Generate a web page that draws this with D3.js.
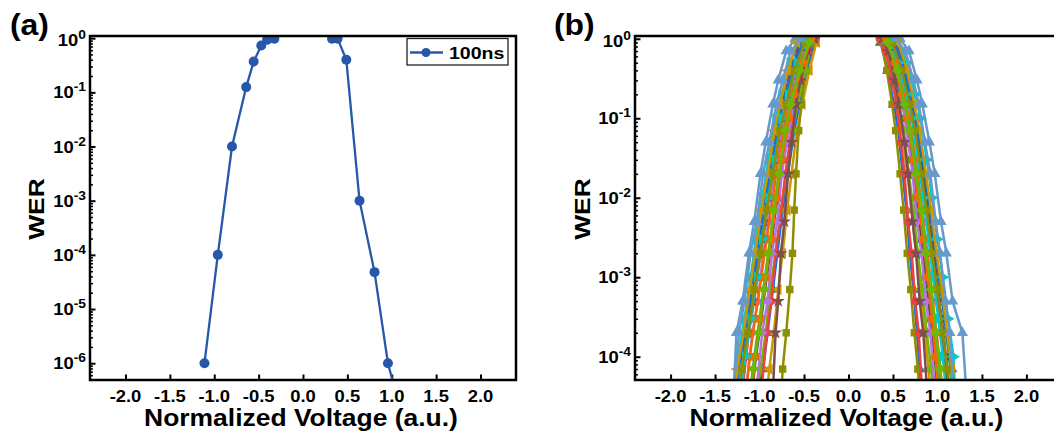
<!DOCTYPE html>
<html><head><meta charset="utf-8">
<script src="https://cdn.jsdelivr.net/npm/d3@7"></script>
<style>body{margin:0;background:#fff}svg{display:block}text{font-family:"Liberation Sans",Arial,sans-serif;font-weight:bold;fill:#000}</style>
</head><body>
<script>
// ---------- data ----------
const xTicks = [-2.0, -1.5, -1.0, -0.5, 0.0, 0.5, 1.0, 1.5, 2.0];
const xTickLabels = ["-2.0", "-1.5", "-1.0", "-0.5", "0.0", "0.5", "1.0", "1.5", "2.0"];
const yExpA = [0, -1, -2, -3, -4, -5, -6];
const yExpB = [0, -1, -2, -3, -4];

// panel (a): 100ns
const aLegend = "100ns";
const aLeftV = [-1.11, -0.96, -0.80, -0.64, -0.556, -0.47, -0.405, -0.323];
const aLeftW = [1e-6, 1e-4, 1e-2, 0.125, 0.37, 0.73, 0.93, 0.98];
const aRightV = [0.327, 0.39, 0.488, 0.637, 0.806, 0.957, 1.12];
const aRightW = [0.98, 0.98, 0.40, 1e-3, 4.8e-5, 1e-6, 1e-7];

// panel (b): many devices; three WER level sets used in turn by the curves
const bWER0 = [1, 0.5, 0.2, 0.1, 0.03, 0.01, 3e-3, 1e-3, 3e-4, 1e-4, 1e-5];
const bWER1 = [1, 0.7, 0.3, 0.15, 0.05, 0.02, 5e-3, 2e-3, 5e-4, 2e-4, 2e-5];
const bWER2 = [0.9, 0.4, 0.15, 0.07, 0.02, 7e-3, 2e-3, 7e-4, 2e-4, 7e-5, 1e-5];
const bLeft = [
  [-0.40,-0.50,-0.60,-0.66,-0.74,-0.80,-0.86,-0.92,-0.98,-1.04,-1.14],
  [-0.45,-0.56,-0.66,-0.72,-0.80,-0.86,-0.93,-0.99,-1.06,-1.12,-1.22],
  [-0.38,-0.47,-0.55,-0.61,-0.68,-0.74,-0.80,-0.85,-0.91,-0.96,-1.05],
  [-0.50,-0.62,-0.72,-0.79,-0.87,-0.94,-1.01,-1.08,-1.15,-1.22,-1.32],
  [-0.42,-0.52,-0.62,-0.69,-0.77,-0.83,-0.90,-0.96,-1.02,-1.08,-1.18],
  [-0.36,-0.44,-0.52,-0.58,-0.64,-0.69,-0.74,-0.79,-0.84,-0.89,-0.97],
  [-0.55,-0.66,-0.75,-0.82,-0.90,-0.97,-1.04,-1.10,-1.17,-1.24,-1.33],
  [-0.47,-0.57,-0.67,-0.74,-0.82,-0.88,-0.95,-1.01,-1.08,-1.14,-1.24],
  [-0.42,-0.48,-0.53,-0.56,-0.59,-0.61,-0.63,-0.66,-0.70,-0.74,-0.78],
  [-0.44,-0.54,-0.64,-0.70,-0.79,-0.85,-0.92,-0.98,-1.05,-1.11,-1.20],
  [-0.60,-0.70,-0.79,-0.85,-0.93,-0.99,-1.06,-1.12,-1.19,-1.26,-1.30],
  [-0.41,-0.49,-0.57,-0.63,-0.70,-0.76,-0.82,-0.88,-0.93,-0.99,-1.08],
  [-0.48,-0.59,-0.69,-0.76,-0.84,-0.91,-0.98,-1.05,-1.12,-1.18,-1.27],
  [-0.37,-0.45,-0.54,-0.60,-0.66,-0.71,-0.77,-0.82,-0.87,-0.92,-1.00],
  [-0.52,-0.63,-0.73,-0.80,-0.88,-0.95,-1.02,-1.09,-1.16,-1.23,-1.30],
  [-0.43,-0.53,-0.63,-0.68,-0.76,-0.82,-0.88,-0.94,-1.00,-1.06,-1.16],
  [-0.40,-0.48,-0.56,-0.62,-0.69,-0.75,-0.80,-0.86,-0.91,-0.97,-1.06],
  [-0.58,-0.68,-0.77,-0.83,-0.91,-0.98,-1.05,-1.11,-1.18,-1.25,-1.31],
  [-0.46,-0.58,-0.68,-0.75,-0.83,-0.90,-0.97,-1.03,-1.10,-1.16,-1.26],
  [-0.38,-0.46,-0.54,-0.59,-0.64,-0.68,-0.72,-0.76,-0.79,-0.82,-0.86],
  [-0.49,-0.61,-0.70,-0.77,-0.85,-0.92,-0.99,-1.06,-1.13,-1.20,-1.28],
  [-0.42,-0.51,-0.61,-0.67,-0.75,-0.81,-0.87,-0.93,-0.99,-1.05,-1.13],
  [-0.53,-0.65,-0.74,-0.81,-0.89,-0.96,-1.03,-1.10,-1.17,-1.23,-1.32],
  [-0.44,-0.55,-0.65,-0.71,-0.78,-0.84,-0.90,-0.95,-1.01,-1.07,-1.17]
];
const bRight = [
  [0.40,0.50,0.58,0.64,0.71,0.76,0.82,0.87,0.92,0.97,1.04],
  [0.45,0.55,0.64,0.70,0.77,0.83,0.89,0.94,1.00,1.05,1.13],
  [0.36,0.44,0.51,0.56,0.61,0.65,0.69,0.73,0.77,0.80,0.86],
  [0.50,0.61,0.70,0.76,0.84,0.90,0.96,1.02,1.08,1.13,1.20],
  [0.42,0.51,0.59,0.65,0.72,0.78,0.84,0.89,0.94,0.99,1.07],
  [0.38,0.47,0.55,0.60,0.66,0.71,0.76,0.81,0.86,0.90,0.97],
  [0.55,0.66,0.75,0.81,0.88,0.94,1.00,1.06,1.12,1.18,1.22],
  [0.47,0.57,0.66,0.72,0.79,0.85,0.91,0.96,1.02,1.07,1.15],
  [0.37,0.43,0.49,0.53,0.58,0.62,0.66,0.70,0.74,0.78,0.83],
  [0.44,0.54,0.62,0.68,0.75,0.81,0.86,0.92,0.97,1.02,1.10],
  [0.58,0.68,0.77,0.83,0.91,0.97,1.04,1.10,1.17,1.28,1.34],
  [0.41,0.49,0.57,0.62,0.68,0.73,0.78,0.83,0.88,0.93,1.00],
  [0.48,0.59,0.68,0.74,0.81,0.87,0.93,0.99,1.04,1.09,1.17],
  [0.35,0.42,0.49,0.54,0.59,0.63,0.67,0.71,0.75,0.79,0.84],
  [0.52,0.63,0.72,0.78,0.86,0.92,0.98,1.04,1.10,1.16,1.22],
  [0.43,0.53,0.61,0.67,0.74,0.79,0.85,0.90,0.95,1.00,1.08],
  [0.39,0.48,0.56,0.61,0.67,0.72,0.77,0.82,0.87,0.92,0.99],
  [0.56,0.66,0.74,0.80,0.87,0.93,0.99,1.05,1.11,1.16,1.21],
  [0.46,0.56,0.65,0.71,0.78,0.84,0.90,0.95,1.01,1.06,1.14],
  [0.38,0.45,0.52,0.57,0.63,0.67,0.72,0.76,0.80,0.84,0.90],
  [0.49,0.60,0.69,0.75,0.82,0.88,0.94,1.00,1.06,1.11,1.18],
  [0.42,0.52,0.60,0.66,0.73,0.78,0.84,0.89,0.94,0.98,1.05],
  [0.53,0.64,0.73,0.79,0.86,0.92,0.98,1.03,1.09,1.14,1.20],
  [0.44,0.55,0.63,0.69,0.76,0.82,0.87,0.93,0.98,1.03,1.11]
];
const bColors = ["#515151","#F14040","#1A6FDF","#37AD6B","#B177DE","#CC9900","#00CBCC","#7D4E4E","#8E8E00","#FB6501","#6699CC","#6FB802"];
const bMarkers = ["square","circle","triangle","triangleDown","diamond","triangleLeft","triangleRight","star","square","circle","triangle","diamond"];

// ---------- drawing ----------
const SX = 1.15;
const svg = d3.select("body").append("svg").attr("width", 1054).attr("height", 438);

function stext(g, x, y, str, size, anchor, sx) {
  return g.append("text")
    .attr("transform", `translate(${x},${y}) scale(${sx},1)`)
    .attr("text-anchor", anchor)
    .attr("font-size", size)
    .text(str);
}

function panel(cfg) {
  const g = svg.append("g");
  const x = cfg.x, y = cfg.y;
  const [xl, xr] = x.range();
  const [yb, yt] = y.range();
  const clipId = "clip" + cfg.id;
  svg.append("clipPath").attr("id", clipId).append("rect")
    .attr("x", xl).attr("y", yt).attr("width", xr - xl).attr("height", yb - yt);

  g.append("g").attr("transform", `translate(0,${yb})`)
    .call(d3.axisBottom(x).tickValues(xTicks).tickSizeInner(-5.5).tickSizeOuter(0).tickFormat(""))
    .call(s => { s.select(".domain").remove(); s.selectAll("line").attr("stroke", "#000").attr("stroke-width", 2); });
  xTicks.forEach((v, i) => stext(g, x(v), 402, xTickLabels[i], 16, "middle", SX));

  const [dmin, dmax] = y.domain();
  const minor = [];
  for (let e = Math.floor(Math.log10(dmin)); e <= Math.ceil(Math.log10(dmax)); e++)
    for (let k = 2; k <= 9; k++) { const v = k * Math.pow(10, e); if (v > dmin && v < dmax) minor.push(v); }
  g.append("g").attr("transform", `translate(${xl},0)`)
    .call(d3.axisLeft(y).tickValues(minor).tickSizeInner(-3).tickSizeOuter(0).tickFormat(""))
    .call(s => { s.select(".domain").remove(); s.selectAll("line").attr("stroke", "#000").attr("stroke-width", 1.5); });
  const majors = cfg.exps.map(e => Math.pow(10, e));
  g.append("g").attr("transform", `translate(${xl},0)`)
    .call(d3.axisLeft(y).tickValues(majors).tickSizeInner(-5.5).tickSizeOuter(0).tickFormat(""))
    .call(s => { s.select(".domain").remove(); s.selectAll("line").attr("stroke", "#000").attr("stroke-width", 2); });
  cfg.exps.forEach(e => {
    const t = g.append("text")
      .attr("transform", `translate(${xl - 4},${y(Math.pow(10, e)) + (e === 0 ? 8 : 6)}) scale(${SX},1)`)
      .attr("text-anchor", "end").attr("font-size", 16);
    t.append("tspan").text("10");
    t.append("tspan").attr("font-size", 12).attr("dy", -7).text(String(e));
  });

  g.append("text")
    .attr("transform", `translate(${cfg.werX},${(yb + yt) / 2 + 1}) rotate(-90) scale(1.2,1)`)
    .attr("text-anchor", "middle").attr("font-size", 22).text("WER");
  stext(g, (xl + Math.min(xr, 1062)) / 2 - 2, 426, "Normalized Voltage (a.u.)", 23, "middle", SX);
  stext(g, cfg.labelX, 35, cfg.label, 29, "start", 1.1);

  const plot = g.append("g").attr("clip-path", `url(#${clipId})`);
  return { g, plot, frame: () => g.append("rect").attr("x", xl).attr("y", yt).attr("width", xr - xl).attr("height", yb - yt)
      .attr("fill", "none").attr("stroke", "#000").attr("stroke-width", 2.5) };
}

// Panel (a)
const xa = d3.scaleLinear().domain([-2.4, 2.4]).range([90, 516]);
const ya = d3.scaleLog().domain([Math.pow(10, -6.31), Math.pow(10, 0.04)]).range([380, 36]);
const pa = panel({ id: "a", x: xa, y: ya, exps: yExpA, werX: 44, label: "(a)", labelX: 10 });
const blue = "#2657AB";
const lineA = d3.line().x(d => xa(d[0])).y(d => ya(d[1]));
[[aLeftV, aLeftW], [aRightV, aRightW]].forEach(([vs, ws]) => {
  const pts = vs.map((v, i) => [v, ws[i]]);
  pa.plot.append("path").datum(pts).attr("d", lineA).attr("fill", "none").attr("stroke", blue).attr("stroke-width", 2.3);
  pa.plot.selectAll(null).data(pts).enter().append("circle")
    .attr("cx", d => xa(d[0])).attr("cy", d => ya(d[1])).attr("r", 5).attr("fill", blue);
});
pa.frame();
const lg = pa.g.append("g");
lg.append("rect").attr("x", 407).attr("y", 38.5).attr("width", 101).attr("height", 26.5)
  .attr("fill", "#fff").attr("stroke", "#222").attr("stroke-width", 1.3);
lg.append("line").attr("x1", 410).attr("x2", 443).attr("y1", 52.5).attr("y2", 52.5).attr("stroke", blue).attr("stroke-width", 2.3);
lg.append("circle").attr("cx", 426).attr("cy", 52.5).attr("r", 4.5).attr("fill", blue);
stext(lg, 449, 59, aLegend, 17, "start", SX);

// Panel (b)
const xb = d3.scaleLinear().domain([-2.4, 2.4]).range([635, 1062]);
const yb = d3.scaleLog().domain([Math.pow(10, -4.293), Math.pow(10, 0.035)]).range([380, 36]);
const pb = panel({ id: "b", x: xb, y: yb, exps: yExpB, werX: 590, label: "(b)", labelX: 554 });
const lineB = d3.line().x(d => xb(d[0])).y(d => yb(d[1]));
const symMap = {
  square: [d3.symbolSquare, 0], circle: [d3.symbolCircle, 0], triangle: [d3.symbolTriangle, 0],
  triangleDown: [d3.symbolTriangle, 180], diamond: [d3.symbolSquare, 45], triangleLeft: [d3.symbolTriangle, -90],
  triangleRight: [d3.symbolTriangle, 90], star: [d3.symbolStar, 0]
};
const bWERsets = [bWER0, bWER1, bWER2];
bLeft.forEach((lv, si) => {
  const col = bColors[si % bColors.length];
  const wer = bWERsets[si % 3];
  const [st, rot] = symMap[bMarkers[si % bMarkers.length]];
  const sym = d3.symbol().type(st).size(55);
  [lv, bRight[si]].forEach(vs => {
    const pts = vs.map((v, i) => [v, wer[i]]);
    pb.plot.append("path").datum(pts).attr("d", lineB).attr("fill", "none").attr("stroke", col).attr("stroke-width", 2.5);
    pb.plot.selectAll(null).data(pts).enter().append("path").attr("d", sym)
      .attr("transform", d => `translate(${xb(d[0])},${yb(d[1])}) rotate(${rot})`).attr("fill", col);
  });
});
pb.frame();
</script>
</body></html>
